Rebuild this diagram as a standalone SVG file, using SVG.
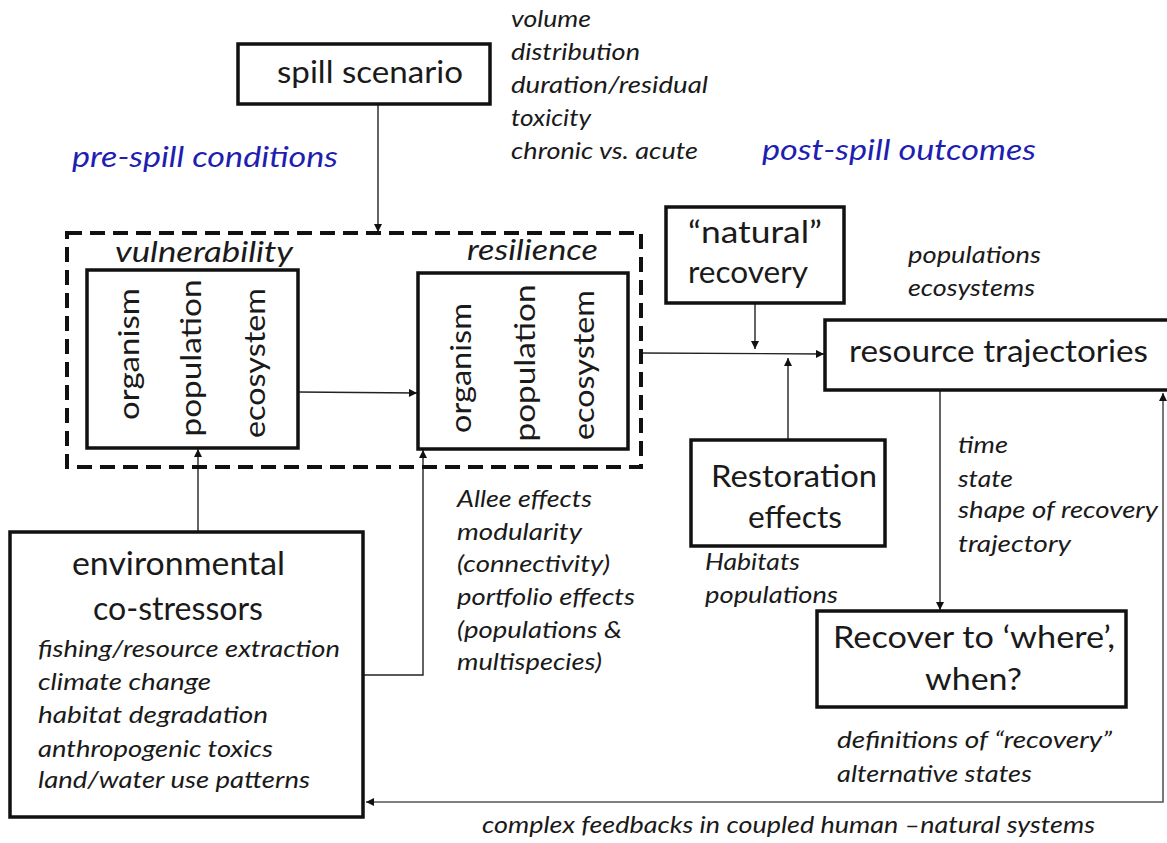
<svg xmlns="http://www.w3.org/2000/svg" width="1167" height="843" viewBox="0 0 1167 843">
<style>
  .box { fill: #fff; stroke: #111; stroke-width: 3.5; }
  .dash { fill: none; stroke: #111; stroke-width: 4; stroke-dasharray: 15 8; }
  .ln { fill: none; stroke: #222; stroke-width: 1.4; }
  .fb { fill: none; stroke: #555; stroke-width: 1.6; }
  text { font-family: Lato, "Open Sans", "Liberation Sans", sans-serif; fill: #1a1a1a; }
  .t30 { font-size: 30px; }
  .t32 { font-size: 32px; }
  .v { font-size: 29px; text-anchor: middle; }
  .it { font-size: 24px; font-style: italic; }
  .it28 { font-size: 28px; font-style: italic; }
  .blue { font-size: 28px; font-style: italic; fill: #1e1eb0; }
</style>
<defs>
  <marker id="ah" viewBox="0 0 10 10" refX="10" refY="5" markerWidth="9" markerHeight="8" markerUnits="userSpaceOnUse" orient="auto-start-reverse">
    <path d="M0,0 L10,5 L0,10 z" fill="#111"/>
  </marker>
</defs>

<g id="labels">
  <text class="blue" x="72" y="167" textLength="266" lengthAdjust="spacingAndGlyphs">pre-spill conditions</text>
  <text class="blue" x="762" y="160" textLength="274" lengthAdjust="spacingAndGlyphs">post-spill outcomes</text>
  <text class="it" x="511" y="27" textLength="80" lengthAdjust="spacingAndGlyphs">volume</text>
  <text class="it" x="511" y="60" textLength="129" lengthAdjust="spacingAndGlyphs">distribution</text>
  <text class="it" x="511" y="93" textLength="197" lengthAdjust="spacingAndGlyphs">duration/residual</text>
  <text class="it" x="511" y="126" textLength="80" lengthAdjust="spacingAndGlyphs">toxicity</text>
  <text class="it" x="511" y="159" textLength="187" lengthAdjust="spacingAndGlyphs">chronic vs. acute</text>
  <text class="it" x="908" y="263" textLength="133" lengthAdjust="spacingAndGlyphs">populations</text>
  <text class="it" x="908" y="296" textLength="127" lengthAdjust="spacingAndGlyphs">ecosystems</text>
  <text class="it" x="457" y="507" textLength="135" lengthAdjust="spacingAndGlyphs">Allee effects</text>
  <text class="it" x="457" y="540" textLength="125" lengthAdjust="spacingAndGlyphs">modularity</text>
  <text class="it" x="457" y="572" textLength="153" lengthAdjust="spacingAndGlyphs">(connectivity)</text>
  <text class="it" x="457" y="605" textLength="178" lengthAdjust="spacingAndGlyphs">portfolio effects</text>
  <text class="it" x="457" y="638" textLength="165" lengthAdjust="spacingAndGlyphs">(populations &amp;</text>
  <text class="it" x="457" y="670" textLength="145" lengthAdjust="spacingAndGlyphs">multispecies)</text>
  <text class="it" x="705" y="570" textLength="95" lengthAdjust="spacingAndGlyphs">Habitats</text>
  <text class="it" x="705" y="603" textLength="133" lengthAdjust="spacingAndGlyphs">populations</text>
  <text class="it" x="958" y="453" textLength="50" lengthAdjust="spacingAndGlyphs">time</text>
  <text class="it" x="958" y="487" textLength="55" lengthAdjust="spacingAndGlyphs">state</text>
  <text class="it" x="958" y="518" textLength="200" lengthAdjust="spacingAndGlyphs">shape of recovery</text>
  <text class="it" x="958" y="552" textLength="113" lengthAdjust="spacingAndGlyphs">trajectory</text>
  <text class="it" x="837" y="748" textLength="275" lengthAdjust="spacingAndGlyphs">definitions of “recovery”</text>
  <text class="it" x="837" y="782" textLength="195" lengthAdjust="spacingAndGlyphs">alternative states</text>
  <text class="it" x="482" y="833" textLength="613" lengthAdjust="spacingAndGlyphs">complex feedbacks in coupled human –natural systems</text>
</g>

<g id="connectors">
  <line class="ln" x1="378" y1="104" x2="378" y2="232" marker-end="url(#ah)"/>
  <line class="ln" x1="298" y1="392" x2="417" y2="393" marker-end="url(#ah)"/>
  <line class="ln" x1="198" y1="532" x2="198" y2="449" marker-end="url(#ah)"/>
  <polyline class="ln" points="363,675 423,675 423,450" marker-end="url(#ah)"/>
  <line class="ln" x1="640" y1="353" x2="824" y2="354" marker-end="url(#ah)"/>
  <line class="ln" x1="755" y1="303" x2="755" y2="349" marker-end="url(#ah)"/>
  <line class="ln" x1="788" y1="440" x2="788" y2="358" marker-end="url(#ah)"/>
  <line class="ln" x1="940" y1="391" x2="940" y2="610" marker-end="url(#ah)"/>
  <polyline class="fb" points="366,802 1163,802 1163,393" marker-start="url(#ah)" marker-end="url(#ah)"/>
</g>

<g id="spill-scenario">
  <rect class="box" x="238" y="44" width="252" height="60"/>
  <text class="t30" x="277" y="83" textLength="186" lengthAdjust="spacingAndGlyphs">spill scenario</text>
</g>

<g id="pre-spill-frame">
  <rect class="dash" x="67" y="233" width="574" height="234"/>
</g>

<g id="vulnerability">
  <text class="it28" x="115" y="262" textLength="178" lengthAdjust="spacingAndGlyphs">vulnerability</text>
  <rect class="box" x="87" y="270" width="211" height="178"/>
  <text class="v" transform="translate(139,354) rotate(-90)" textLength="132" lengthAdjust="spacingAndGlyphs">organism</text>
  <text class="v" transform="translate(201,358) rotate(-90)" textLength="157" lengthAdjust="spacingAndGlyphs">population</text>
  <text class="v" transform="translate(265,363) rotate(-90)" textLength="150" lengthAdjust="spacingAndGlyphs">ecosystem</text>
</g>

<g id="resilience">
  <text class="it28" x="467" y="260" textLength="131" lengthAdjust="spacingAndGlyphs">resilience</text>
  <rect class="box" x="418" y="273" width="210" height="176"/>
  <text class="v" transform="translate(471,368) rotate(-90)" textLength="130" lengthAdjust="spacingAndGlyphs">organism</text>
  <text class="v" transform="translate(535,363) rotate(-90)" textLength="157" lengthAdjust="spacingAndGlyphs">population</text>
  <text class="v" transform="translate(594,365) rotate(-90)" textLength="150" lengthAdjust="spacingAndGlyphs">ecosystem</text>
</g>

<g id="natural-recovery">
  <rect class="box" x="666" y="207" width="178" height="96"/>
  <text class="t30" x="688" y="243" textLength="134" lengthAdjust="spacingAndGlyphs">“natural”</text>
  <text class="t30" x="688" y="283" textLength="120" lengthAdjust="spacingAndGlyphs">recovery</text>
</g>

<g id="resource-trajectories">
  <rect class="box" x="825" y="320" width="350" height="70"/>
  <text class="t30" x="849" y="362" textLength="299" lengthAdjust="spacingAndGlyphs">resource trajectories</text>
</g>

<g id="restoration-effects">
  <rect class="box" x="691" y="440" width="194" height="106"/>
  <text class="t30" x="711" y="487" textLength="166" lengthAdjust="spacingAndGlyphs">Restoration</text>
  <text class="t30" x="748" y="528" textLength="94" lengthAdjust="spacingAndGlyphs">effects</text>
</g>

<g id="recover-where-when">
  <rect class="box" x="817" y="611" width="309" height="96"/>
  <text class="t30" x="833" y="648" textLength="282" lengthAdjust="spacingAndGlyphs">Recover to ‘where’,</text>
  <text class="t30" x="925" y="690" textLength="97" lengthAdjust="spacingAndGlyphs">when?</text>
</g>

<g id="environmental-co-stressors">
  <rect class="box" x="10" y="532" width="353" height="285"/>
  <text class="t32" x="72" y="575" textLength="213" lengthAdjust="spacingAndGlyphs">environmental</text>
  <text class="t32" x="93" y="620" textLength="170" lengthAdjust="spacingAndGlyphs">co-stressors</text>
  <text class="it" x="38" y="657" textLength="302" lengthAdjust="spacingAndGlyphs">fishing/resource extraction</text>
  <text class="it" x="38" y="690" textLength="173" lengthAdjust="spacingAndGlyphs">climate change</text>
  <text class="it" x="38" y="723" textLength="230" lengthAdjust="spacingAndGlyphs">habitat degradation</text>
  <text class="it" x="38" y="757" textLength="235" lengthAdjust="spacingAndGlyphs">anthropogenic toxics</text>
  <text class="it" x="38" y="788" textLength="272" lengthAdjust="spacingAndGlyphs">land/water use patterns</text>
</g>
</svg>
